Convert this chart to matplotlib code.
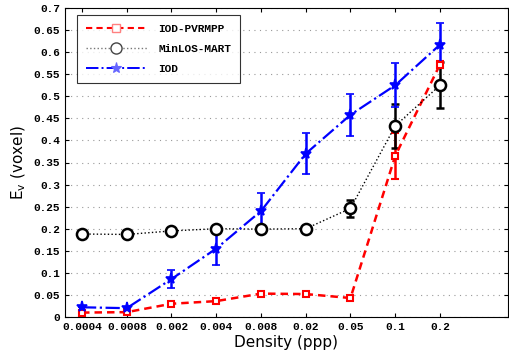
import matplotlib.pyplot as plt
from matplotlib.lines import Line2D
import numpy as np

densities = ['0.0004', '0.0008', '0.002', '0.004', '0.008', '0.02', '0.05', '0.1', '0.2']

iod_pvrmpp = [0.010, 0.011, 0.030, 0.036, 0.053, 0.052, 0.043, 0.365, 0.572]
iod_pvrmpp_err = [0.0, 0.0, 0.0, 0.0, 0.0, 0.0, 0.0, 0.052, 0.008]

minlos_mart = [0.188, 0.187, 0.195, 0.200, 0.199, 0.200, 0.246, 0.433, 0.525]
minlos_mart_err = [0.0, 0.0, 0.0, 0.0, 0.0, 0.0, 0.020, 0.050, 0.052]

iod = [0.022, 0.020, 0.086, 0.155, 0.240, 0.370, 0.458, 0.525, 0.617]
iod_err = [0.0, 0.0, 0.020, 0.037, 0.040, 0.047, 0.047, 0.050, 0.048]

x = np.arange(1, len(densities) + 1)

fig = plt.figure(figsize=(5.09, 3.52), dpi=100)
ax = fig.add_axes([65 / 509, 35 / 352, 443 / 509, 309 / 352])

ax.errorbar(x, iod_pvrmpp, yerr=iod_pvrmpp_err, color='red', linestyle='--', linewidth=1.8,
            marker='s', markersize=5, markerfacecolor='white', markeredgewidth=1.5,
            capsize=3, elinewidth=1.8, dashes=(3, 2))
ax.errorbar(x, minlos_mart, yerr=minlos_mart_err, color='black', linestyle=':', linewidth=1.0,
            marker='o', markersize=8, markerfacecolor='white', markeredgewidth=1.8,
            capsize=3, elinewidth=1.8)
ax.errorbar(x, iod, yerr=iod_err, color='blue', linestyle='-.', linewidth=1.6,
            marker='*', markersize=8, markeredgewidth=1.2,
            capsize=3, elinewidth=1.8)

ax.set_xlim(0.62, 10.52)
ax.set_ylim(0, 0.7)
ax.set_xticks(x)
ax.set_xticklabels(densities, family='Liberation Mono', fontsize=8, fontweight='bold')
ax.set_yticks(np.arange(0, 0.701, 0.05))
ax.set_yticklabels(['0'] + ['%g' % v for v in np.arange(0.05, 0.701, 0.05)],
                   family='Liberation Mono', fontsize=8, fontweight='bold')
ax.tick_params(direction='in', top=True, right=True, length=3)
ax.grid(axis='y', linestyle=(0, (1, 4)), color='#999999', linewidth=0.8)

ax.set_xlabel('Density (ppp)', fontsize=11, labelpad=2)
ax.set_ylabel(r'E$_\mathrm{v}$ (voxel)', fontsize=11, labelpad=4)

# entradas de leyenda sin barras de error
handles = [
    Line2D([], [], color='red', linestyle='--', dashes=(3, 2), linewidth=1.5, marker='s',
           markersize=6, markerfacecolor='white', markeredgecolor='#ff8080', markeredgewidth=1.0),
    Line2D([], [], color='#777777', linestyle=':', linewidth=1.0, marker='o',
           markersize=8, markerfacecolor='white', markeredgecolor='#444444', markeredgewidth=1.0),
    Line2D([], [], color='blue', linestyle='-.', linewidth=1.4, marker='*',
           markersize=8, markerfacecolor='#6666ff', markeredgecolor='#6666ff', markeredgewidth=0.8),
]
leg = ax.legend(handles, ['IOD-PVRMPP', 'MinLOS-MART', 'IOD'], loc='upper left',
                bbox_to_anchor=(12 / 443, 1 - 7 / 309), borderaxespad=0,
                fancybox=False, edgecolor='black',
                prop={'family': 'Liberation Mono', 'size': 8, 'weight': 'bold'},
                handlelength=5.5, borderpad=0.8, labelspacing=0.9, handletextpad=1.0)
leg.get_frame().set_linewidth(0.8)

plt.savefig('out.png', dpi=100)
